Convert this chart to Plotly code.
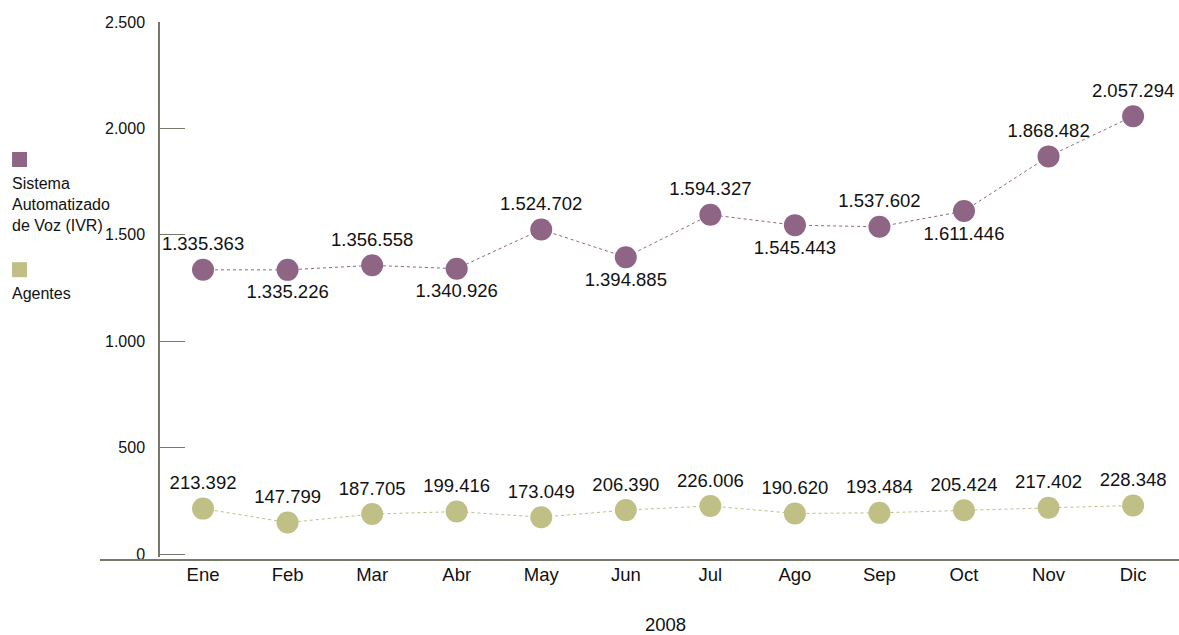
import plotly.graph_objects as go

months = ["Ene", "Feb", "Mar", "Abr", "May", "Jun", "Jul", "Ago", "Sep", "Oct", "Nov", "Dic"]
ivr = [1335363, 1335226, 1356558, 1340926, 1524702, 1394885, 1594327, 1545443, 1537602, 1611446, 1868482, 2057294]
agentes = [213392, 147799, 187705, 199416, 173049, 206390, 226006, 190620, 193484, 205424, 217402, 228348]
ivr_pos = ["top center", "bottom center", "top center", "bottom center", "top center", "bottom center",
           "top center", "bottom center", "top center", "bottom center", "top center", "top center"]
y_ticks = [0, 500000, 1000000, 1500000, 2000000, 2500000]
y_ticktext = ["0", "500", "1.000", "1.500", "2.000", "2.500"]
year = "2008"
names = ["Sistema<br>Automatizado<br>de Voz (IVR)", "Agentes"]

PURPLE = "#8E6585"
OLIVE = "#BFBF86"
AXIS = "#77776A"
FONT = "Liberation Sans, Arial, sans-serif"


def fmt(v):
    return f"{v:,}".replace(",", ".")


x = list(range(len(months)))

fig = go.Figure()
fig.add_trace(go.Scatter(
    x=x, y=ivr, mode="lines+markers+text",
    line=dict(color=PURPLE, width=1, dash="dot"),
    marker=dict(color=PURPLE, size=22),
    text=[fmt(v) for v in ivr], textposition=ivr_pos,
    textfont=dict(size=18.5, color="#111111", family=FONT),
    cliponaxis=False, showlegend=False, hoverinfo="skip",
))
fig.add_trace(go.Scatter(
    x=x, y=agentes, mode="lines+markers+text",
    line=dict(color=OLIVE, width=1, dash="dot"),
    marker=dict(color=OLIVE, size=22),
    text=[fmt(v) for v in agentes], textposition="top center",
    textfont=dict(size=18.5, color="#111111", family=FONT),
    cliponaxis=False, showlegend=False, hoverinfo="skip",
))

# plot area in page pixels: x 160..1179 (width 1019), y 22..557 (height 535)
# x-axis base line spanning beyond the plot area
fig.add_shape(type="line", xref="paper", yref="paper", x0=-0.0589, x1=1.0, y0=-0.0056, y1=-0.0056,
              line=dict(color=AXIS, width=2))

# manual legend
fig.add_shape(type="rect", xref="paper", yref="paper", x0=-0.1452, x1=-0.1305, y0=0.729, y1=0.757,
              fillcolor=PURPLE, line=dict(width=0))
fig.add_shape(type="rect", xref="paper", yref="paper", x0=-0.1452, x1=-0.1305, y0=0.523, y1=0.551,
              fillcolor=OLIVE, line=dict(width=0))
fig.add_annotation(xref="paper", yref="paper", x=-0.1475, y=0.718, xanchor="left", yanchor="top",
                   text=names[0], showarrow=False, align="left",
                   font=dict(size=16, color="#111111", family=FONT))
fig.add_annotation(xref="paper", yref="paper", x=-0.1475, y=0.512, xanchor="left", yanchor="top",
                   text=names[1], showarrow=False, align="left",
                   font=dict(size=16, color="#111111", family=FONT))
fig.add_annotation(xref="paper", yref="paper", x=0.4956, y=-0.126, xanchor="center", yanchor="middle",
                   text=year, showarrow=False, borderpad=0,
                   font=dict(size=18.5, color="#111111", family=FONT))

fig.update_layout(
    width=1179, height=635,
    margin=dict(l=160, r=0, t=22, b=78),
    paper_bgcolor="white", plot_bgcolor="white",
    font=dict(family=FONT, color="#111111"),
    xaxis=dict(
        range=[-0.509, 11.543], tickvals=x, ticktext=months,
        showgrid=False, zeroline=False, showline=False, ticks="",
        tickfont=dict(size=18.5), ticklabelstandoff=4,
    ),
    yaxis=dict(
        range=[-14000, 2500000], tickvals=y_ticks, ticktext=y_ticktext,
        showgrid=False, zeroline=False, showline=True, linecolor=AXIS, linewidth=1.5,
        ticks="inside", ticklen=25, tickcolor=AXIS, tickwidth=1,
        tickfont=dict(size=16), ticklabelstandoff=10,
    ),
)

fig.write_html("out.html", config={"displayModeBar": False},
               post_script="document.body.style.margin='0';document.body.style.overflow='hidden';")
